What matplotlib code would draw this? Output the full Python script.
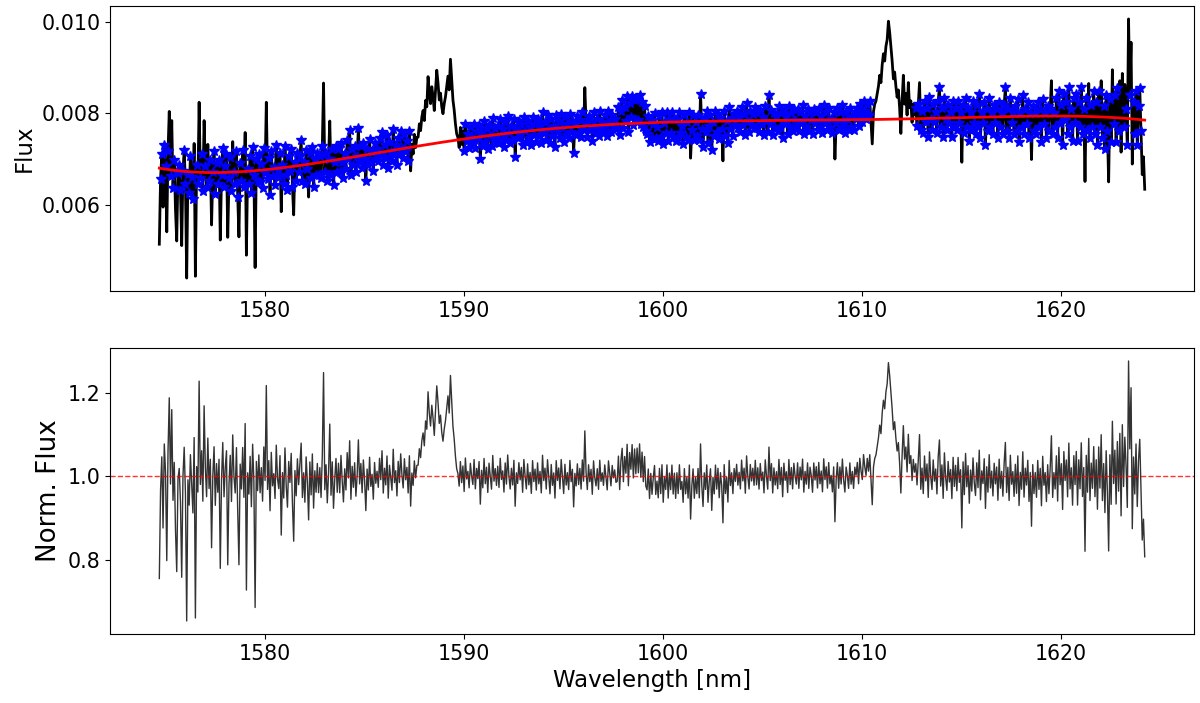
import numpy as np
import matplotlib
matplotlib.use("Agg")
import matplotlib.pyplot as plt

# observed flux (units of 1e-3), 0.0625 nm sampling starting at 1574.7 nm
wave_start = 1574.7
wave_step = 0.0625
flux_1e3 = [
    # 1574.7
    5.14, 6.57, 7.11, 5.95, 7.31, 6.84, 5.41, 7.18, 8.04, 6.64, 7.84, 6.37, 6.98, 5.89, 5.21, 6.70,
    # 1575.7
    6.87, 6.33, 5.11, 6.73, 7.20, 6.46, 4.40, 6.67, 6.26, 7.07, 6.60, 6.13, 7.34, 4.44, 6.87, 6.46,
    # 1576.7
    8.24, 6.58, 7.12, 6.31, 7.84, 6.85, 6.38, 7.32, 6.51, 6.98, 5.56, 6.71, 7.18, 6.24, 6.91, 6.45,
    # 1577.7
    6.98, 5.23, 6.65, 7.25, 6.38, 6.85, 7.12, 5.29, 6.58, 7.05, 6.31, 7.38, 6.71, 6.45, 7.18, 6.18,
    # 1578.7
    5.30, 6.92, 6.52, 7.19, 6.39, 7.58, 4.90, 6.79, 6.45, 7.06, 6.25, 7.26, 6.66, 4.63, 6.99, 6.52,
    # 1579.7
    7.10, 6.49, 6.90, 6.36, 7.24, 6.70, 8.24, 6.56, 7.03, 6.22, 7.17, 6.63, 6.83, 6.43, 7.30, 6.76,
    # 1580.7
    6.60, 7.14, 5.85, 6.87, 6.46, 7.28, 6.66, 6.32, 7.07, 6.73, 7.21, 6.39, 5.78, 6.94, 6.53, 7.14,
    # 1581.7
    6.72, 7.07, 7.41, 6.52, 6.93, 6.45, 7.20, 6.79, 6.17, 7.13, 6.59, 7.27, 6.38, 7.00, 6.65, 7.13,
    # 1582.7
    6.65, 7.07, 6.58, 7.28, 8.66, 6.72, 7.14, 6.51, 7.00, 7.83, 6.65, 7.21, 6.44, 6.93, 7.28, 6.72,
    # 1583.7
    7.21, 6.72, 7.35, 6.93, 6.58, 7.14, 6.79, 7.42, 7.00, 7.63, 6.65, 7.21, 6.86, 7.28, 6.72, 7.07,
    # 1584.7
    7.68, 6.94, 7.29, 6.80, 7.36, 7.01, 6.51, 7.22, 6.87, 7.43, 6.94, 7.15, 6.73, 7.36, 7.01, 7.22,
    # 1585.7
    6.95, 7.45, 7.09, 7.59, 6.87, 7.30, 7.02, 7.52, 6.80, 7.37, 7.16, 6.95, 7.66, 7.09, 7.30, 6.87,
    # 1586.7
    7.47, 7.11, 7.61, 7.25, 7.03, 7.54, 7.18, 7.40, 6.96, 7.61, 6.74, 7.32, 7.11, 7.54, 7.25, 7.47,
    # 1587.7
    7.48, 7.77, 7.62, 7.92, 8.06, 7.84, 8.28, 8.14, 8.80, 8.43, 8.21, 8.58, 8.36, 8.06, 8.50, 8.94,
    # 1588.7
    8.66, 8.29, 8.44, 8.14, 7.99, 8.21, 8.36, 8.58, 8.81, 8.51, 9.18, 8.73, 8.29, 8.07, 7.77, 7.55,
    # 1589.7
    7.47, 7.25, 7.69, 7.32, 7.62, 7.17, 7.77, 7.40, 7.54, 7.25, 7.69, 7.47, 7.32, 7.77, 7.25, 7.62,
    # 1590.7
    7.44, 7.75, 6.99, 7.60, 7.29, 7.82, 7.37, 7.67, 7.22, 7.75, 7.52, 7.29, 7.90, 7.44, 7.67, 7.37,
    # 1591.7
    7.72, 7.34, 7.87, 7.49, 7.65, 7.27, 7.80, 7.42, 7.95, 7.57, 7.34, 7.72, 7.42, 7.87, 7.04, 7.65,
    # 1592.7
    7.46, 7.84, 7.53, 7.76, 7.31, 7.91, 7.61, 7.38, 7.84, 7.46, 7.69, 7.31, 7.91, 7.53, 7.76, 7.38,
    # 1593.7
    7.88, 7.50, 7.73, 7.34, 8.03, 7.57, 7.80, 7.42, 7.96, 7.65, 7.34, 7.88, 7.50, 7.73, 7.27, 7.96,
    # 1594.7
    7.60, 7.83, 7.45, 7.99, 7.68, 7.37, 7.91, 7.53, 7.76, 7.45, 7.99, 7.60, 7.83, 7.14, 7.76, 7.53,
    # 1595.7
    7.94, 7.56, 7.86, 7.48, 8.02, 7.63, 8.56, 7.79, 7.48, 7.94, 7.63, 7.86, 7.40, 8.02, 7.71, 7.56,
    # 1596.7
    7.88, 7.50, 8.04, 7.65, 7.81, 7.58, 7.96, 7.73, 7.50, 8.04, 7.81, 7.58, 7.96, 7.73, 7.88, 7.65,
    # 1597.7
    7.67, 8.14, 7.52, 8.06, 8.29, 7.67, 8.14, 7.83, 8.37, 7.60, 8.22, 7.91, 8.37, 7.75, 8.29, 7.83,
    # 1598.7
    8.31, 7.85, 8.39, 7.77, 8.24, 7.69, 8.16, 7.61, 7.54, 7.93, 7.38, 7.85, 7.46, 7.77, 8.00, 7.46,
    # 1599.7
    7.71, 7.40, 7.95, 7.48, 8.02, 7.32, 7.79, 7.56, 8.02, 7.40, 7.87, 7.56, 8.02, 7.48, 7.87, 7.40,
    # 1600.7
    7.88, 7.49, 8.03, 7.57, 7.72, 7.33, 7.96, 7.49, 7.80, 7.41, 8.03, 7.02, 7.64, 7.96, 7.41, 7.80,
    # 1601.7
    7.50, 7.97, 7.42, 8.43, 7.65, 7.26, 7.89, 7.58, 8.04, 7.34, 7.73, 7.97, 7.19, 7.81, 7.50, 8.04,
    # 1602.7
    7.59, 7.98, 7.43, 7.90, 7.66, 6.96, 8.05, 7.51, 7.82, 7.35, 8.13, 7.66, 7.90, 7.51, 7.98, 7.74,
    # 1603.7
    8.06, 7.67, 7.91, 7.60, 8.14, 7.75, 7.99, 7.52, 8.22, 7.83, 7.60, 8.06, 7.75, 7.99, 7.67, 8.14,
    # 1604.7
    7.68, 8.00, 7.60, 8.08, 7.76, 7.92, 7.53, 8.15, 7.84, 7.60, 8.39, 7.76, 8.08, 7.53, 8.00, 7.68,
    # 1605.7
    7.93, 7.61, 8.16, 7.69, 8.01, 7.46, 8.09, 7.77, 7.93, 7.54, 8.16, 7.69, 8.01, 7.61, 8.09, 7.85,
    # 1606.7
    7.70, 8.10, 7.62, 8.02, 7.78, 8.17, 7.55, 7.94, 7.70, 8.10, 7.62, 8.02, 7.86, 7.55, 8.10, 7.78,
    # 1607.7
    8.03, 7.63, 8.11, 7.71, 7.95, 7.56, 8.18, 7.79, 8.03, 7.63, 8.11, 7.71, 7.87, 7.56, 8.03, 7.00,
    # 1608.7
    7.79, 8.11, 7.63, 8.03, 7.71, 8.18, 7.79, 7.56, 8.03, 7.87, 7.63, 8.11, 7.71, 7.95, 7.63, 8.03,
    # 1609.7
    7.88, 8.12, 7.72, 8.20, 7.96, 7.80, 8.27, 8.04, 7.88, 8.20, 7.96, 8.27, 7.80, 7.33, 8.04, 8.20,
    # 1610.7
    8.27, 8.43, 8.59, 8.83, 8.67, 9.06, 9.30, 9.14, 9.46, 9.61, 10.01, 9.77, 9.46, 9.14, 8.75, 8.90,
    # 1611.7
    8.59, 8.35, 8.51, 8.12, 7.56, 8.27, 8.83, 8.20, 8.43, 7.96, 8.67, 8.12, 8.27, 7.80, 8.20, 7.96,
    # 1612.7
    8.12, 7.72, 8.20, 8.67, 7.64, 8.04, 7.56, 8.27, 7.80, 8.12, 7.49, 8.35, 7.88, 7.64, 8.20, 7.80,
    # 1613.7
    8.03, 7.56, 8.26, 8.58, 7.71, 8.11, 7.48, 8.34, 7.87, 7.63, 8.18, 7.79, 8.03, 7.48, 8.26, 7.71,
    # 1614.7
    8.11, 7.63, 8.26, 7.79, 8.03, 6.93, 8.18, 7.56, 8.34, 7.71, 8.11, 7.40, 8.03, 7.63, 8.26, 7.79,
    # 1615.7
    7.55, 8.17, 7.70, 8.41, 7.47, 8.02, 7.78, 8.25, 7.31, 8.10, 7.62, 8.33, 7.70, 8.02, 7.55, 8.17,
    # 1616.7
    7.78, 8.10, 7.47, 8.25, 7.70, 8.02, 7.55, 8.17, 8.57, 7.62, 8.10, 7.47, 8.33, 7.78, 8.02, 7.55,
    # 1617.7
    8.16, 7.61, 8.32, 7.38, 8.01, 7.69, 8.40, 7.54, 8.09, 7.77, 8.24, 7.46, 8.01, 6.99, 8.16, 7.61,
    # 1618.7
    8.01, 7.54, 8.24, 7.69, 8.09, 7.38, 8.32, 7.77, 8.01, 7.46, 8.16, 7.61, 8.09, 8.71, 7.54, 8.01,
    # 1619.7
    7.70, 8.33, 7.47, 8.49, 7.78, 8.18, 7.31, 8.41, 7.86, 8.25, 7.55, 8.57, 7.70, 8.10, 7.39, 8.33,
    # 1620.7
    7.78, 8.41, 7.39, 8.25, 7.70, 8.57, 7.55, 8.10, 6.51, 8.33, 7.63, 8.65, 7.47, 8.18, 7.70, 8.49,
    # 1621.7
    7.54, 8.24, 7.30, 8.48, 7.70, 8.71, 7.46, 8.16, 7.23, 8.40, 7.62, 6.50, 8.32, 7.38, 8.95, 7.77,
    # 1622.7
    8.40, 7.38, 8.56, 7.62, 8.71, 7.15, 8.87, 7.70, 8.63, 8.09, 7.30, 10.06, 8.40, 9.55, 6.89, 8.24,
    # 1623.7
    7.54, 8.48, 7.30, 8.16, 8.56, 7.62, 6.66, 7.05, 6.34,
]

# emission windows left out of the continuum fit
emission_windows = [(1587.3, 1590.0), (1610.4, 1612.7)]
clip_level = 0.09
poly_deg = 5

flux = np.array(flux_1e3) * 1e-3
wave = wave_start + wave_step * np.arange(len(flux))

mask = np.ones(len(wave), dtype=bool)
for lo, hi in emission_windows:
    mask &= ~((wave > lo) & (wave < hi))

# fit, clip outliers, refit a few times
x = (wave - 1600.0) / 25.0
good = mask.copy()
for i in range(4):
    coef = np.polyfit(x[good], flux[good], poly_deg)
    resid = flux / np.polyval(coef, x) - 1
    good = mask & (np.abs(resid) < clip_level)
continuum = np.polyval(coef, x)
norm_flux = flux / continuum

fig = plt.figure(figsize=(12, 7.03), dpi=100)
ax1 = fig.add_axes([0.0917, 0.586, 0.9033, 0.4055])
ax2 = fig.add_axes([0.0917, 0.0982, 0.9033, 0.4068])

ax1.plot(wave, flux, color='k', lw=2)
ax1.plot(wave[good], flux[good], 'b*', ms=7)
ax1.plot(wave, continuum, color='r', lw=2)
ax1.set_ylabel('Flux', fontsize=16.5)
ax1.tick_params(labelsize=14.8)

ax2.plot(wave, norm_flux, color='#333333', lw=1)
ax2.axhline(1.0, color='r', ls='--', lw=1, alpha=0.8)
ax2.set_ylabel('Norm. Flux', fontsize=18.8)
ax2.set_xlabel('Wavelength [nm]', fontsize=16.5)
ax2.tick_params(labelsize=14.8)

fig.savefig('out.png', dpi=100)
